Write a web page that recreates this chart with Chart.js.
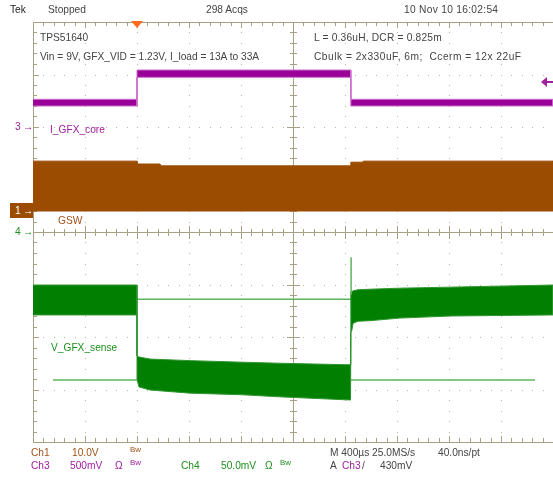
<!DOCTYPE html>
<html><head><meta charset="utf-8">
<script src="https://cdn.jsdelivr.net/npm/chart.js@4/dist/chart.umd.min.js"></script>
<style>
html,body{margin:0;padding:0;background:#fff;}
#wrap{position:relative;width:553px;height:477px;overflow:hidden;font-family:"Liberation Sans",Arial,sans-serif;font-size:10.2px;background:#fff;}
canvas{position:absolute;left:0;top:0;}
.t{position:absolute;white-space:pre;line-height:1;transform:translateY(-50%);}
.box{position:absolute;background:#9b4c00;color:#fff;}
</style></head><body>
<div id="wrap"><canvas id="c" width="553" height="477"></canvas></div>
<script>
// ---- data (time in µs relative to trigger, 400 µs/div) ----
// Ch3  I_GFX_core (mV, 500 mV/div) – trace band edges
const icTime  = [-800, 0, 0, 1645, 1645, 3200];
const icUpper = [264, 264, 543, 543, 264, 264];
const icLower = [200, 200, 473, 473, 200, 200];
// Ch1  GSW switch node (V, 10 V/div) – envelope of switching
const gsTime  = [-800, 0, 0, 177, 177, 1645, 1645, 1740, 1740, 3200];
const gsTop   = [9.5, 9.5, 8.95, 8.95, 8.6, 8.6, 9.3, 9.3, 9.5, 9.5];
const gsBot   = [0, 0, 0, 0, 0, 0, 0, 0, 0, 0];
// Ch4  V_GFX_sense (mV, 50 mV/div) – ripple envelope
const vsTime  = [-800, 0, 0, 15, 100, 410, 810, 1100, 1640, 1645, 1645, 1652, 1662, 1700, 1790, 2020, 2410, 3200];
const vsUpper = [-50.5, -50.5, -118, -119, -121, -122.5, -124, -125, -126.5, -126.5, -57, -57, -56, -55, -54.5, -53.5, -52.5, -50.5];
const vsLower = [-79, -79, -140, -147.5, -150.5, -153.5, -155, -157, -160, -160, -96, -94, -87, -85, -84.5, -82, -80, -79];
const vsSpikeTime = [1647, 1647];
const vsSpike     = [-60, -24];
const vsRefHighTime = [0, 3200];
const vsRefHigh     = [-64, -64];
const vsRefLowTime  = [-646, 3062];
const vsRefLow      = [-141, -141];
const triggerTime = 0;
const triggerLevel = 430; // mV on Ch3

// ---- helpers ----
function pts(t, v){ return t.map((x,i)=>({x:x, y:v[i]})); }
function band(t, up, lo){ return pts(t, up).concat(pts(t, lo).reverse()); }

const GRID = '#bdb49b';
const GRID_D = '#a99f84';

const graticule = {
  id:'graticule',
  beforeDatasetsDraw(chart){
    const {ctx, scales} = chart;
    const X = v => Math.round(scales.x.getPixelForValue(-800 + v*400));
    const Y = v => Math.round(scales.yd.getPixelForValue(v));
    ctx.save();
    ctx.fillStyle = GRID;
    for (let i=1;i<10;i++){ if(i===5) continue; const px=X(i);
      for (let k=1;k<40;k++){ ctx.fillRect(px, Y(k*0.2), 1, 1); } }
    for (let j=1;j<8;j++){ if(j===4) continue; const py=Y(j);
      for (let k=1;k<50;k++){ ctx.fillRect(X(k*0.2), py, 1, 1); } }
    ctx.fillStyle = GRID_D;
    const cx = X(5), cy = Y(4);
    ctx.fillRect(cx, Y(8), 1, Y(0)-Y(8));
    ctx.fillRect(X(0), cy, X(10)-X(0), 1);
    for (let k=1;k<40;k++){ const py=Y(k*0.2); const L = (k%5===0)?6:3; ctx.fillRect(cx-L, py, 2*L+1, 1); }
    for (let k=1;k<50;k++){ const px=X(k*0.2); const L = (k%5===0)?6:3; ctx.fillRect(px, cy-L, 1, 2*L+1); }
    const top = Y(8), bot = Y(0), lf = X(0);
    ctx.fillRect(lf, top, X(10)-lf, 1);
    ctx.fillRect(lf, bot, X(10)-lf, 1);
    ctx.fillRect(lf, top, 1, bot-top);
    for (let k=1;k<50;k++){ const px=X(k*0.2); const L=(k%5===0)?6:4;
      ctx.fillRect(px, top, 1, L); ctx.fillRect(px, bot-L, 1, L); }
    for (let k=1;k<40;k++){ const py=Y(k*0.2); const L=(k%5===0)?6:4; ctx.fillRect(lf, py, L, 1); }
    ctx.restore();
  },
  afterDatasetsDraw(chart){
    const {ctx, scales} = chart;
    const tx = scales.x.getPixelForValue(triggerTime);
    const top = scales.yd.getPixelForValue(8);
    ctx.save();
    ctx.fillStyle = '#ff6b1c';
    ctx.beginPath(); ctx.moveTo(tx-6, top-1); ctx.lineTo(tx+6, top-1); ctx.lineTo(tx, top+6); ctx.closePath(); ctx.fill();
    const ty = Math.round(scales.y3.getPixelForValue(triggerLevel));
    ctx.fillStyle = '#a020a0';
    ctx.beginPath(); ctx.moveTo(541, ty); ctx.lineTo(547, ty-5); ctx.lineTo(547, ty+5); ctx.closePath(); ctx.fill();
    ctx.fillRect(546, ty-1, 8, 2);
    ctx.restore();
  }
};

const ctx = document.getElementById('c').getContext('2d');
new Chart(ctx, {
  type:'line',
  data:{ datasets:[
    {data: pts(vsRefHighTime, vsRefHigh), yAxisID:'y4', borderColor:'#5fb35f', borderWidth:1.5, fill:false, order:10},
    {data: pts(vsRefLowTime, vsRefLow), yAxisID:'y4', borderColor:'#5fb35f', borderWidth:1.5, fill:false, order:10},
    {data: band(vsTime, vsUpper, vsLower), yAxisID:'y4', borderColor:'#2f952f', borderWidth:1, backgroundColor:'#007f00', fill:'shape', order:5},
    {data: pts(vsSpikeTime, vsSpike), yAxisID:'y4', borderColor:'#5fb35f', borderWidth:1.5, fill:false, order:4},
    {data: band(gsTime, gsTop, gsBot), yAxisID:'y1', borderColor:'#9b4c00', borderWidth:1, backgroundColor:'#9b4c00', fill:'shape', order:6},
    {data: band(icTime, icUpper, icLower), yAxisID:'y3', borderColor:'#cf6fcf', borderWidth:1, backgroundColor:'#980098', fill:'shape', order:3}
  ]},
  options:{
    responsive:false, animation:false, devicePixelRatio:1,
    layout:{padding:{left:33, right:0, top:22, bottom:35}},
    plugins:{legend:{display:false}, tooltip:{enabled:false}},
    elements:{point:{radius:0}, line:{tension:0}},
    scales:{
      x:{type:'linear', min:-800, max:3200, display:false},
      yd:{type:'linear', min:0, max:8, display:false},
      y1:{type:'linear', min:-44, max:36, display:false},
      y3:{type:'linear', min:-3000, max:1000, display:false},
      y4:{type:'linear', min:-200, max:200, display:false}
    }
  },
  plugins:[graticule]
});

// ---- text ----
const wrap = document.getElementById('wrap');
function txt(s, x, y, color, size, ls){
  const d = document.createElement('div'); d.className='t'; d.textContent=s;
  d.style.left=x+'px'; d.style.top=y+'px'; d.style.color=color||'#3a3a3a';
  if(size) d.style.fontSize=size+'px';
  if(ls) d.style.letterSpacing=ls+'px';
  wrap.appendChild(d); return d;
}
const BR='#a0521a', PU='#a020a0', GR='#1e8f1e', GY='#444';
txt('Tek', 10, 10, '#222');
txt('Stopped', 48, 10, GY);
txt('298 Acqs', 206, 10, GY);
txt('10 Nov 10 16:02:54', 404, 10, GY, null, 0.3);
txt('TPS51640', 40, 38, GY);
txt('Vin = 9V, GFX_VID = 1.23V, I_load = 13A to 33A', 40, 57, GY);
txt('L = 0.36uH, DCR = 0.825m', 314, 38, GY, null, 0.2);
txt('Cbulk = 2x330uF, 6m;  Ccerm = 12x 22uF', 314, 57, GY, null, 0.5);
txt('I_GFX_core', 50, 130, PU);
txt('GSW', 58, 221, BR);
txt('V_GFX_sense', 51, 348, GR);
txt('3', 15, 127, PU); txt('\u2192', 23, 127, PU);
txt('4', 15, 232, GR); txt('\u2192', 23, 232, GR);
const b = document.createElement('div'); b.className='box';
b.style.left='10px'; b.style.top='203px'; b.style.width='23px'; b.style.height='15px';
wrap.appendChild(b);
txt('1', 15, 211, '#fff'); txt('\u2192', 23, 211, '#fff');
txt('Ch1', 31, 453, BR); txt('10.0V', 72, 453, BR); txt('Bw', 130, 450, BR, 8);
txt('Ch3', 31, 466, PU); txt('500mV', 70, 466, PU); txt('\u03A9', 115, 466, PU); txt('Bw', 130, 463, PU, 8);
txt('Ch4', 181, 466, GR); txt('50.0mV', 221, 466, GR); txt('\u03A9', 265, 466, GR); txt('Bw', 280, 463, GR, 8);
txt('M 400\u00B5s 25.0MS/s', 330, 453, GY); txt('40.0ns/pt', 438, 453, GY);
txt('A', 330, 466, GY); txt('Ch3', 342, 466, PU); txt('/', 362, 466, GY); txt('430mV', 380, 466, GY);
</script>
</body></html>
